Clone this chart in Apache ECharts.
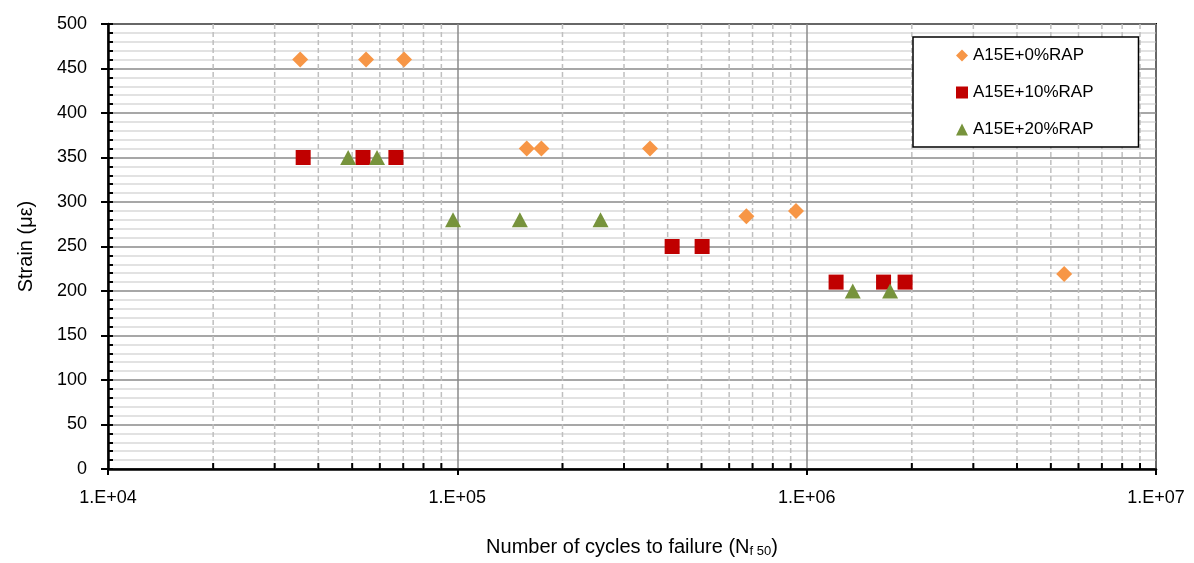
<!DOCTYPE html>
<html>
<head>
<meta charset="utf-8">
<script src="https://cdn.jsdelivr.net/npm/echarts@6/dist/echarts.min.js"></script>
<style>html,body{margin:0;padding:0;background:#fff}#c{width:1194px;height:563px}</style>
</head>
<body>
<div id="c"></div>
<script>
// ---- data ----
const seriesNames = ['A15E+0%RAP', 'A15E+10%RAP', 'A15E+20%RAP'];
const rap0 = [[35500, 460], [54800, 460], [70400, 460], [158000, 360], [174000, 360], [356000, 360], [672000, 284], [932000, 290], [5460000, 219]];
const rap10 = [[36200, 350], [53700, 350], [66700, 350], [412000, 250], [502000, 250], [1214000, 210], [1660000, 210], [1913000, 210]];
const rap20 = [[48700, 350], [58900, 350], [97200, 280], [151000, 280], [257000, 280], [1355000, 200], [1733000, 200]];
const xTicks = [1e4, 1e5, 1e6, 1e7];
const xTickLabels = ['1.E+04', '1.E+05', '1.E+06', '1.E+07'];
const xMinorTicks = [2e4,3e4,4e4,5e4,6e4,7e4,8e4,9e4,2e5,3e5,4e5,5e5,6e5,7e5,8e5,9e5,2e6,3e6,4e6,5e6,6e6,7e6,8e6,9e6];
const yTickStep = 50;
const yMinorStep = 10;

const FONT = "'Liberation Sans', Arial, sans-serif";
const chart = echarts.init(document.getElementById('c'), null, {renderer: 'canvas'});

const option = {
  animation: false,
  backgroundColor: '#fff',
  textStyle: {fontFamily: FONT, color: '#000'},
  grid: {left: 108, right: 38, top: 24, bottom: 92, show: true, borderColor: '#000', borderWidth: 2, containLabel: false},
  legend: {
    orient: 'vertical', left: 913, top: 37,
    data: [
      {name: seriesNames[0], icon: 'diamond'},
      {name: seriesNames[1], icon: 'rect'},
      {name: seriesNames[2], icon: 'triangle'}
    ],
    itemWidth: 12, itemHeight: 12, itemGap: 20,
    padding: [10, 45, 9, 43],
    borderColor: '#000', borderWidth: 1.5, backgroundColor: '#fff',
    textStyle: {fontSize: 17, fontFamily: FONT, color: '#000'}
  },
  xAxis: {
    type: 'log', logBase: 10, min: xTicks[0], max: xTicks[xTicks.length - 1],
    name: 'Number of cycles to failure (N{sub|f 50})',
    nameLocation: 'middle', nameGap: 67,
    nameTextStyle: {fontSize: 20, fontFamily: FONT, color: '#000',
      rich: {sub: {fontSize: 13, fontFamily: FONT, color: '#000', padding: [9, 0, 0, 0]}}},
    axisLine: {show: true, lineStyle: {color: '#000', width: 2.5}},
    axisTick: {show: true, length: 6, lineStyle: {color: '#000', width: 2}},
    axisLabel: {fontSize: 18, fontFamily: FONT, color: '#000', margin: 20,
      formatter: function (v) { const i = xTicks.findIndex(t => Math.abs(Math.log10(t) - Math.log10(v)) < 1e-6); return i >= 0 ? xTickLabels[i] : ''; }},
    splitLine: {show: true, lineStyle: {color: '#8a8a8a', width: 1.5}}
  },
  yAxis: [{
    type: 'value', min: 0, max: 500, interval: yTickStep, position: 'left',
    name: 'Strain (με)', nameLocation: 'middle', nameGap: 72,
    nameTextStyle: {fontSize: 20, fontFamily: FONT, color: '#000'},
    axisLine: {show: true, lineStyle: {color: '#000', width: 2.5}},
    axisTick: {show: true, length: 7, lineStyle: {color: '#000', width: 2}},
    axisLabel: {fontSize: 18, fontFamily: FONT, color: '#000', margin: 21},
    splitLine: {show: true, lineStyle: {color: '#8a8a8a', width: 1.5}},
    minorTick: {show: false, splitNumber: yTickStep / yMinorStep},
    minorSplitLine: {show: true, lineStyle: {color: '#d9d9d9', width: 1.5}}
  }, {
    type: 'value', min: 0, max: 500, interval: yMinorStep, position: 'left',
    axisLine: {show: false}, axisLabel: {show: false}, splitLine: {show: false},
    axisTick: {show: true, inside: true, length: 5, lineStyle: {color: '#000', width: 2}}
  }],
  series: [
    {
      type: 'custom', name: 'minorGrid', silent: true, z: 1, clip: false,
      data: xMinorTicks.map(v => [v, 0]),
      encode: {x: 0, y: 1},
      renderItem: function (params, api) {
        const x = api.value(0);
        const top = api.coord([x, 500]);
        const bot = api.coord([x, 0]);
        return {type: 'group', children: [
          {type: 'line', shape: {x1: top[0], y1: top[1], x2: bot[0], y2: bot[1]}, style: {stroke: '#bfbfbf', lineWidth: 1.5, lineDash: [5, 3]}},
          {type: 'line', shape: {x1: bot[0], y1: bot[1], x2: bot[0], y2: bot[1] - 6}, style: {stroke: '#000', lineWidth: 2}}
        ]};
      }
    },
    {type: 'scatter', name: seriesNames[0], data: rap0, symbol: 'diamond', symbolSize: [16, 16], itemStyle: {color: '#F79646', opacity: 1}, z: 3},
    {type: 'scatter', name: seriesNames[1], data: rap10, symbol: 'rect', symbolSize: 15, itemStyle: {color: '#C00000', opacity: 1}, z: 4},
    {type: 'scatter', name: seriesNames[2], data: rap20, symbol: 'triangle', symbolSize: [16, 15], itemStyle: {color: '#77933C', opacity: 1}, z: 5}
  ]
};
chart.setOption(option);
</script>
</body>
</html>
